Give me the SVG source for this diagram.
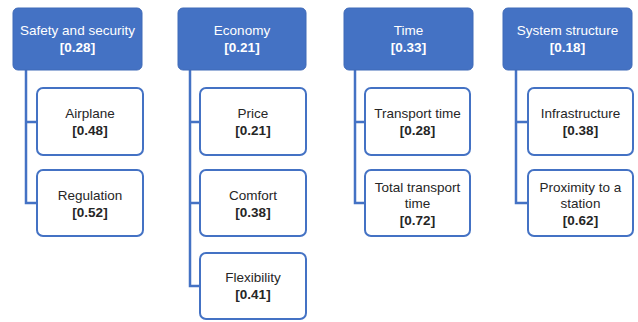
<svg xmlns="http://www.w3.org/2000/svg" width="638" height="322" viewBox="0 0 638 322">
<style>
.top{fill:#4472C4;stroke:#3F6AB8;stroke-width:1}
.child{fill:#fff;stroke:#4472C4;stroke-width:2}
.conn{fill:none;stroke:#4472C4;stroke-width:2.5}
text{font-family:"Liberation Sans",Arial,sans-serif;font-size:13.5px;text-anchor:middle}
.tw{fill:#fff}
.tc{fill:#262626}
.b{font-weight:bold}
</style>
<rect width="638" height="322" fill="#fff"/>
<g id="connectors">
<path class="conn" d="M26 70V203H37M26 122H37"/>
<path class="conn" d="M190 70V286H200M190 122H200M190 203H200"/>
<path class="conn" d="M355 70V203H365M355 122H365"/>
<path class="conn" d="M516 70V203H528M516 122H528"/>
</g>
<g id="safety">
<rect class="top" x="13" y="8" width="129" height="62" rx="5"/>
<text class="tw" x="77.5" y="35">Safety and security</text>
<text class="tw b" x="77.5" y="52">[0.28]</text>
</g>
<g id="economy">
<rect class="top" x="178" y="8" width="128" height="62" rx="5"/>
<text class="tw" x="242" y="35">Economy</text>
<text class="tw b" x="242" y="52">[0.21]</text>
</g>
<g id="time">
<rect class="top" x="344" y="8" width="129" height="62" rx="5"/>
<text class="tw" x="408.5" y="35">Time</text>
<text class="tw b" x="408.5" y="52">[0.33]</text>
</g>
<g id="system">
<rect class="top" x="503" y="8" width="129" height="62" rx="5"/>
<text class="tw" x="567.5" y="35">System structure</text>
<text class="tw b" x="567.5" y="52">[0.18]</text>
</g>
<g id="airplane">
<rect class="child" x="37" y="88" width="106" height="67" rx="6"/>
<text class="tc" x="90" y="118">Airplane</text>
<text class="tc b" x="90" y="135">[0.48]</text>
</g>
<g id="regulation">
<rect class="child" x="37" y="170" width="106" height="66" rx="6"/>
<text class="tc" x="90" y="200">Regulation</text>
<text class="tc b" x="90" y="217">[0.52]</text>
</g>
<g id="price">
<rect class="child" x="200" y="88" width="106" height="67" rx="6"/>
<text class="tc" x="253" y="118">Price</text>
<text class="tc b" x="253" y="135">[0.21]</text>
</g>
<g id="comfort">
<rect class="child" x="200" y="170" width="106" height="66" rx="6"/>
<text class="tc" x="253" y="200">Comfort</text>
<text class="tc b" x="253" y="217">[0.38]</text>
</g>
<g id="flexibility">
<rect class="child" x="200" y="253" width="106" height="66" rx="6"/>
<text class="tc" x="253" y="282">Flexibility</text>
<text class="tc b" x="253" y="299">[0.41]</text>
</g>
<g id="transport-time">
<rect class="child" x="365" y="88" width="105" height="67" rx="6"/>
<text class="tc" x="417.5" y="118">Transport time</text>
<text class="tc b" x="417.5" y="135">[0.28]</text>
</g>
<g id="total-transport-time">
<rect class="child" x="365" y="170" width="105" height="66" rx="6"/>
<text class="tc" x="417.5" y="192">Total transport</text>
<text class="tc" x="417.5" y="208">time</text>
<text class="tc b" x="417.5" y="225">[0.72]</text>
</g>
<g id="infrastructure">
<rect class="child" x="528" y="88" width="105" height="67" rx="6"/>
<text class="tc" x="580.5" y="118">Infrastructure</text>
<text class="tc b" x="580.5" y="135">[0.38]</text>
</g>
<g id="proximity">
<rect class="child" x="528" y="170" width="105" height="66" rx="6"/>
<text class="tc" x="580.5" y="192">Proximity to a</text>
<text class="tc" x="580.5" y="208">station</text>
<text class="tc b" x="580.5" y="225">[0.62]</text>
</g>
</svg>
